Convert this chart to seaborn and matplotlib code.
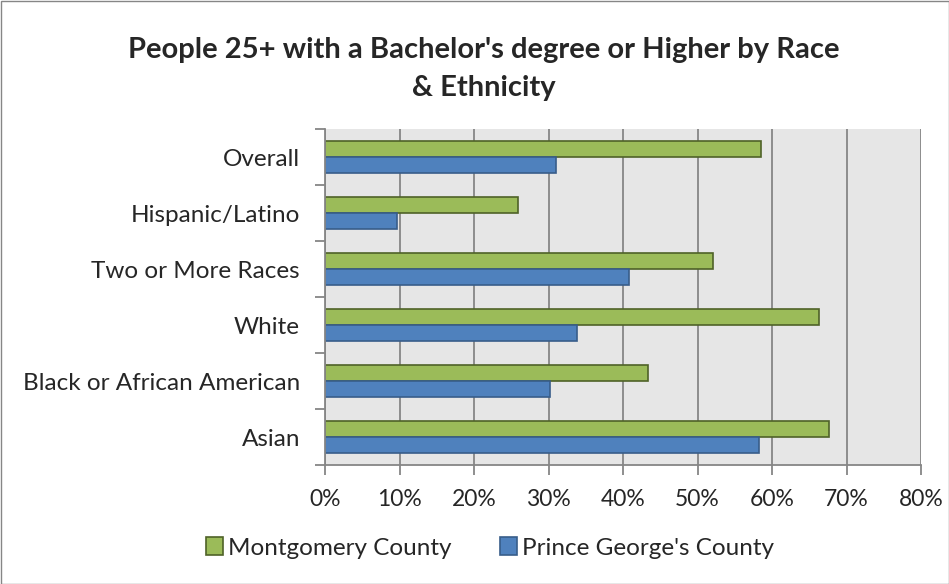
import matplotlib
matplotlib.use("Agg")
import matplotlib.pyplot as plt
import seaborn as sns
import pandas as pd
import numpy as np
from matplotlib.patches import Patch, Rectangle
from matplotlib.ticker import FixedLocator, PercentFormatter

categories = ["Overall", "Hispanic/Latino", "Two or More Races", "White",
              "Black or African American", "Asian"]
montgomery = [58.5, 25.9, 52.1, 66.3, 43.4, 67.7]
prince_georges = [31.0, 9.7, 40.8, 33.8, 30.2, 58.3]
series = ["Montgomery County", "Prince George's County"]
x_ticks = [0, 10, 20, 30, 40, 50, 60, 70, 80]

df = pd.DataFrame({
    "Category": categories * 2,
    "Value": montgomery + prince_georges,
    "County": [series[0]] * len(categories) + [series[1]] * len(categories),
})

sns.set_style("white")
plt.rcParams["font.family"] = ["Lato", "DejaVu Sans"]

fig = plt.figure(figsize=(9.49, 5.84), dpi=100)
ax = fig.add_axes([325/949, 1-465/584, 596/949, 336/584])

fill = {series[0]: "#9BBB59", series[1]: "#4F81BD"}
edge = {series[0]: "#4F6228", series[1]: "#385D8A"}

sns.barplot(data=df, y="Category", x="Value", hue="County", order=categories,
            hue_order=series, palette=fill, orient="h", width=0.57,
            dodge=True, ax=ax, legend=False, saturation=1)

for cont, s in zip(ax.containers, series):
    for bar in cont:
        bar.set_edgecolor(edge[s])
        bar.set_linewidth(1.2)

ax.set_facecolor("#E6E6E6")
ax.set_xlim(0, 80)
ax.set_ylim(len(categories) - 0.5, -0.5)
ax.xaxis.set_major_locator(FixedLocator(x_ticks))
ax.xaxis.set_major_formatter(PercentFormatter(decimals=0))
ax.grid(axis="x", color="#868686", linewidth=1.3)
ax.set_axisbelow(True)
ax.set_xlabel("")
ax.set_ylabel("")

for side in ["top", "right"]:
    ax.spines[side].set_visible(False)
for side in ["left", "bottom"]:
    ax.spines[side].set_color("#868686")
    ax.spines[side].set_linewidth(1.3)

ax.tick_params(axis="x", which="major", length=7, color="#868686", width=1.3,
               labelsize=16.5, pad=10, direction="out", bottom=True)
ax.tick_params(axis="y", which="major", length=0, labelsize=17.5, pad=18)
ax.yaxis.set_minor_locator(FixedLocator(np.arange(-0.5, len(categories), 1)))
ax.tick_params(axis="y", which="minor", length=7, color="#868686", width=1.3,
               direction="out", left=True)

fig.suptitle("People 25+ with a Bachelor's degree or Higher by Race\n& Ethnicity",
             x=484/949, y=1-37/584, fontsize=21, fontweight="bold",
             va="top", linespacing=1.55)

handles = [Patch(facecolor=fill[s], edgecolor=edge[s], linewidth=1.2, label=s)
           for s in series]
fig.legend(handles=handles, loc="center", bbox_to_anchor=(490/949, 1-548/584),
           ncol=2, frameon=False, fontsize=17.5, handlelength=0.7,
           handleheight=0.7, handletextpad=0.2, columnspacing=2.0)

fig.patches.append(Rectangle((0.5/949, 0.5/584), 1-1/949, 1-1/584,
                             transform=fig.transFigure, fill=False,
                             edgecolor="#868686", linewidth=1.0))

fig.savefig("out.png", dpi=100, facecolor="white")
